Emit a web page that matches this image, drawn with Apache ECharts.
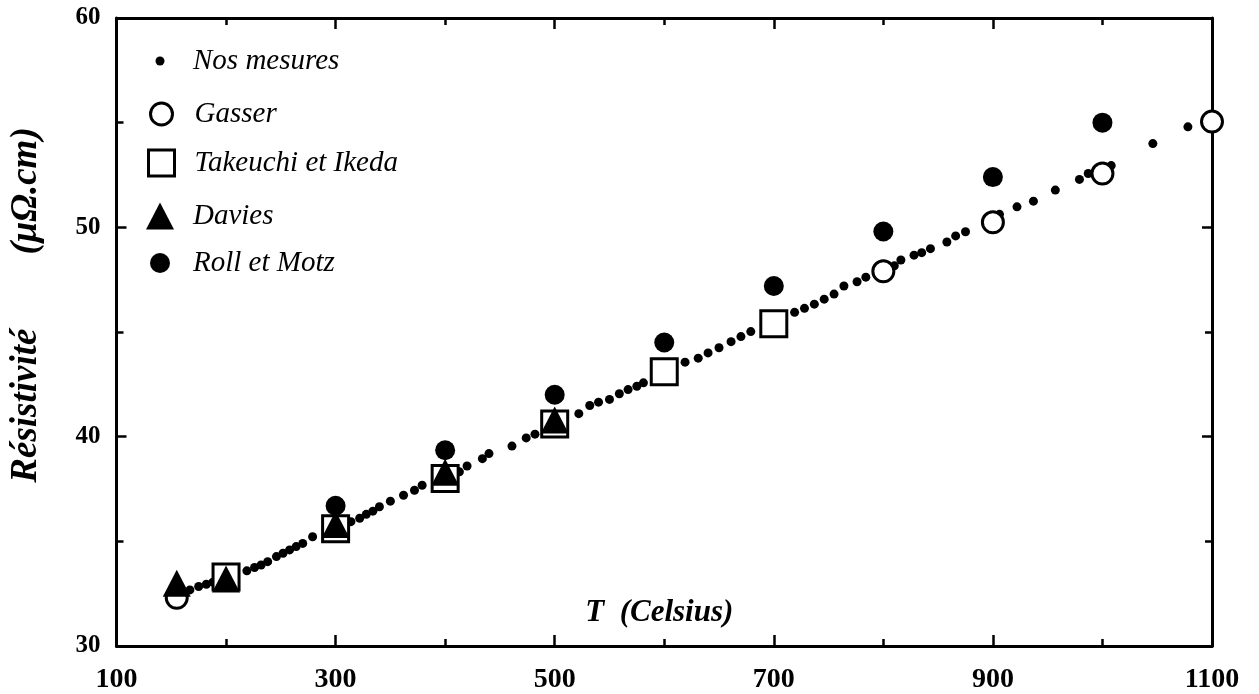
<!DOCTYPE html>
<html>
<head>
<meta charset="utf-8">
<script src="https://cdn.jsdelivr.net/npm/echarts@6/dist/echarts.min.js"></script>
<style>
html,body{margin:0;padding:0;background:#fff;}
#c{width:1259px;height:694px;}
</style>
</head>
<body>
<div id="c"></div>
<script>
// ---- data (T in Celsius, resistivity in µΩ.cm) ----
const nosT = [167,175,182,188,219,226,232,238,246,252,258,264,270,279,314,322,328,334,340,350,362,372,379,413,420,434,440,461,474,482,522,532,540,550,559,567,575,581,619,631,640,650,661,670,679,719,728,737,746,755,764,776,784,810,816,828,835,843,858,866,875,906,922,937,957,979,987,1008,1046,1078];
const nosR = [32.68,32.84,32.95,33.05,33.59,33.75,33.87,34.03,34.27,34.43,34.59,34.75,34.9,35.22,35.94,36.1,36.29,36.44,36.65,36.92,37.2,37.44,37.68,38.32,38.6,38.95,39.19,39.55,39.94,40.12,41.1,41.49,41.65,41.78,42.05,42.25,42.41,42.57,43.56,43.75,44.0,44.25,44.54,44.78,45.02,45.94,46.13,46.33,46.57,46.81,47.2,47.4,47.62,48.16,48.44,48.67,48.79,48.98,49.3,49.59,49.79,50.62,50.98,51.25,51.78,52.29,52.57,52.95,54.0,54.8];
const gasserT = [155,800,900,1000,1100];
const gasserR = [32.3,47.9,50.24,52.57,55.05];
const takeuchiT = [200,300,400,500,600,700];
const takeuchiR = [33.3,35.6,38.0,40.6,43.1,45.4];
const daviesT = [155,200,300,400,500];
const daviesR = [33.0,33.2,35.8,38.3,40.8];
const rollT = [300,400,500,600,700,800,900,1000];
const rollR = [36.7,39.35,42.0,44.5,47.2,49.8,52.4,55.0];
const seriesNames = ['Nos mesures','Gasser','Takeuchi et Ikeda','Davies','Roll et Motz'];
const xName = 'T  (Celsius)';
const yName = 'Résistivité        (μΩ.cm)';
const xMin = 100, xMax = 1100, xStep = 200;
const yMin = 30, yMax = 60, yStep = 10;

const pairs = (a, b) => a.map((v, i) => [v, b[i]]);
const SERIF = '"Liberation Serif", "Times New Roman", serif';

const axisLineStyle = { color: '#000', width: 3 };
const tickStyle = { color: '#000', width: 2.5 };
const minorStyle = { color: '#000', width: 2.5 };
function xAxisCfg(pos, show) {
  return {
    type: 'value', position: pos, min: xMin, max: xMax, interval: xStep,
    axisLine: { show: true, onZero: false, lineStyle: axisLineStyle },
    axisTick: { show: true, inside: true, length: 11, lineStyle: tickStyle },
    minorTick: { show: true, splitNumber: 2, length: 7, lineStyle: minorStyle },
    splitLine: { show: false },
    axisLabel: { show: show, margin: 20, color: '#000', fontFamily: SERIF, fontWeight: 'bold', fontSize: 28,
      formatter: v => String(v) }
  };
}
function yAxisCfg(pos, show) {
  return {
    type: 'value', position: pos, min: yMin, max: yMax, interval: yStep,
    axisLine: { show: true, onZero: false, lineStyle: axisLineStyle },
    axisTick: { show: true, inside: true, length: 10, lineStyle: tickStyle },
    minorTick: { show: true, splitNumber: 2, length: 7, lineStyle: minorStyle },
    splitLine: { show: false },
    axisLabel: { show: show, margin: 16, color: '#000', fontFamily: SERIF, fontWeight: 'bold', fontSize: 25,
      formatter: v => String(v) }
  };
}

const xa = xAxisCfg('bottom', true);
xa.name = xName;
xa.nameLocation = 'middle';
xa.nameGap = -33;
xa.nameTextStyle = { color: '#000', fontFamily: SERIF, fontStyle: 'italic', fontWeight: 'bold', fontSize: 31, verticalAlign: 'middle', padding: [0, 10, 0, 0] };
const xb = xAxisCfg('top', false);

const ya = yAxisCfg('left', true);
ya.name = yName;
ya.nameLocation = 'middle';
ya.nameGap = 90;
ya.nameTextStyle = { color: '#000', fontFamily: SERIF, fontStyle: 'italic', fontWeight: 'bold', fontSize: 37, verticalAlign: 'middle', padding: [0, 0, 0, 54] };
const yb = yAxisCfg('right', false);

// legends: one per entry so each icon keeps its own size
const legendRows = [
  { name: seriesNames[0], cy: 59,  w: 9,  h: 9,  border: 0 },
  { name: seriesNames[1], cy: 112, w: 22, h: 22, border: 3 },
  { name: seriesNames[2], cy: 161, w: 26, h: 26, border: 3 },
  { name: seriesNames[3], cy: 214, w: 28, h: 27, border: 0 },
  { name: seriesNames[4], cy: 261, w: 20, h: 20, border: 0 }
];
const legends = legendRows.map(r => {
  const left = 160 - r.w / 2;
  const pad = 193 - (left + r.w + 5);
  const lg = {
    data: [r.name], orient: 'vertical', left: left, top: r.cy - 16, padding: 0,
    itemWidth: r.w, itemHeight: r.h, selectedMode: false,
    textStyle: { color: '#000', fontFamily: SERIF, fontStyle: 'italic', fontSize: 29, lineHeight: 32, padding: [4, 0, 0, pad] }
  };
  lg.itemStyle = r.border ? { borderWidth: r.border, borderColor: '#000', color: '#fff', opacity: 1 } : { color: '#000', opacity: 1 };
  return lg;
});

const option = {
  animation: false,
  backgroundColor: '#fff',
  grid: { left: 113, right: 47, top: 18, bottom: 46, containLabel: false },
  xAxis: [xa, xb],
  yAxis: [ya, yb],
  legend: legends,
  series: [
    { name: seriesNames[0], type: 'scatter', symbol: 'circle', symbolSize: 9,
      itemStyle: { color: '#000', opacity: 1 }, data: pairs(nosT, nosR), z: 2 },
    { name: seriesNames[4], type: 'scatter', symbol: 'circle', symbolSize: 20,
      itemStyle: { color: '#000', opacity: 1 }, data: pairs(rollT, rollR), z: 3 },
    { name: seriesNames[1], type: 'scatter', symbol: 'circle', symbolSize: 21,
      itemStyle: { color: '#fff', borderColor: '#000', borderWidth: 3, opacity: 1 }, data: pairs(gasserT, gasserR), z: 4 },
    { name: seriesNames[2], type: 'scatter', symbol: 'rect', symbolSize: 26,
      itemStyle: { color: '#fff', borderColor: '#000', borderWidth: 3, opacity: 1 }, data: pairs(takeuchiT, takeuchiR), z: 5 },
    { name: seriesNames[3], type: 'scatter', symbol: 'triangle', symbolSize: [28, 27],
      itemStyle: { color: '#000', opacity: 1 }, data: pairs(daviesT, daviesR), z: 6 }
  ]
};
const chart = echarts.init(document.getElementById('c'), null, { renderer: 'canvas' });
chart.setOption(option);
</script>
</body>
</html>
